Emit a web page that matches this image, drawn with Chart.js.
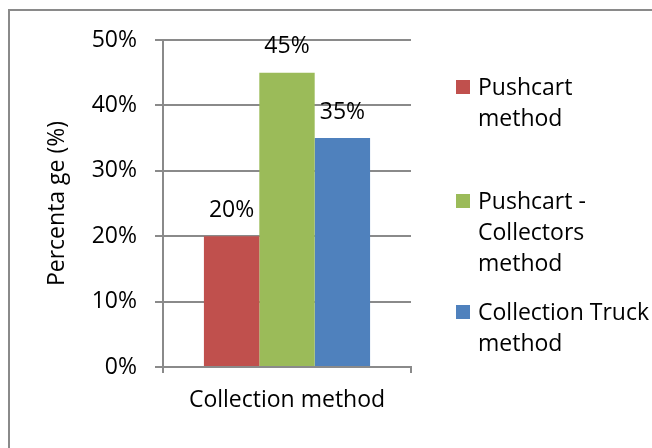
<!DOCTYPE html>
<html>
<head>
<meta charset="utf-8">
<script src="https://cdn.jsdelivr.net/npm/chart.js@4.4.1/dist/chart.umd.min.js"></script>
<style>
  html, body { margin: 0; padding: 0; background: #fff; }
  #wrap { width: 652px; height: 448px; }
</style>
</head>
<body>
<div id="wrap"><canvas id="chartMetodo" width="652" height="448"></canvas></div>
<script>
// dados do gráfico
var categorias = ['Collection method'];
var series = ['Pushcart method', 'Pushcart - Collectors method', 'Collection Truck method'];
var valores = [[20], [45], [35]];
var cores = ['#C0504D', '#9BBB59', '#4F81BD'];
// texto da legenda quebrado em linhas
var linhasLegenda = [['Pushcart', 'method'], ['Pushcart -', 'Collectors', 'method'], ['Collection Truck', 'method']];
var tituloY = 'Percenta ge (%)';
var yMax = 50, yPasso = 10;

var fonte = { family: '"Open Sans", sans-serif', size: 23 };
var cinza = '#8a8a8a';

var ctx = document.getElementById('chartMetodo').getContext('2d');

var datasets = series.map(function (nome, i) {
    return {
        label: nome,
        data: valores[i],
        backgroundColor: cores[i],
        borderWidth: 0,
        barPercentage: 1.0,
        categoryPercentage: 0.67
    };
});

// moldura, rótulos de valor e legenda desenhados à mão
var extras = {
    id: 'extras',
    beforeDraw: function (chart) {
        var c = chart.ctx;
        c.save();
        c.strokeStyle = cinza;
        c.lineWidth = 2;
        c.beginPath();
        c.moveTo(9, 448);
        c.lineTo(9, 10);
        c.lineTo(652, 10);
        c.stroke();
        c.restore();
    },
    afterDatasetsDraw: function (chart) {
        var c = chart.ctx;
        c.save();
        c.font = fonte.size + 'px ' + fonte.family;
        c.fillStyle = '#000';
        c.textAlign = 'center';
        c.textBaseline = 'middle';
        chart.data.datasets.forEach(function (ds, i) {
            chart.getDatasetMeta(i).data.forEach(function (bar, j) {
                c.fillText(ds.data[j] + '%', bar.x, bar.y - 26);
            });
        });
        c.restore();
    },
    afterDraw: function (chart) {
        var c = chart.ctx;
        var topos = [88, 202, 313];
        c.save();
        c.font = fonte.size + 'px ' + fonte.family;
        c.textAlign = 'left';
        c.textBaseline = 'middle';
        linhasLegenda.forEach(function (linhas, i) {
            c.fillStyle = chart.data.datasets[i].backgroundColor;
            c.fillRect(456, topos[i] - 8, 14, 14);
            c.fillStyle = '#000';
            linhas.forEach(function (t, k) {
                c.fillText(t, 478, topos[i] + k * 31);
            });
        });
        c.restore();
    }
};

var myChart = new Chart(ctx, {
    type: 'bar',
    data: { labels: categorias, datasets: datasets },
    options: {
        responsive: false,
        animation: false,
        layout: { padding: { left: 0, right: 241, top: 40, bottom: 0 } },
        plugins: {
            legend: { display: false },
            tooltip: { enabled: false }
        },
        scales: {
            x: {
                offset: true,
                grid: { drawOnChartArea: false, offset: true, color: cinza, lineWidth: 2, tickLength: 6 },
                border: { color: cinza, width: 2 },
                ticks: { color: '#000', font: fonte, padding: 14 },
                afterFit: function (s) { s.height = 81; }
            },
            y: {
                min: 0,
                max: yMax,
                ticks: {
                    stepSize: yPasso,
                    color: '#000',
                    font: fonte,
                    padding: 18,
                    callback: function (v) { return v + '%'; }
                },
                grid: { color: cinza, lineWidth: 2, tickLength: 8 },
                border: { color: cinza, width: 2 },
                title: {
                    display: true,
                    text: tituloY,
                    color: '#000',
                    font: fonte,
                    padding: { top: 44, bottom: 0 }
                },
                afterFit: function (s) { s.width = 163; }
            }
        }
    },
    plugins: [extras]
});
</script>
</body>
</html>
